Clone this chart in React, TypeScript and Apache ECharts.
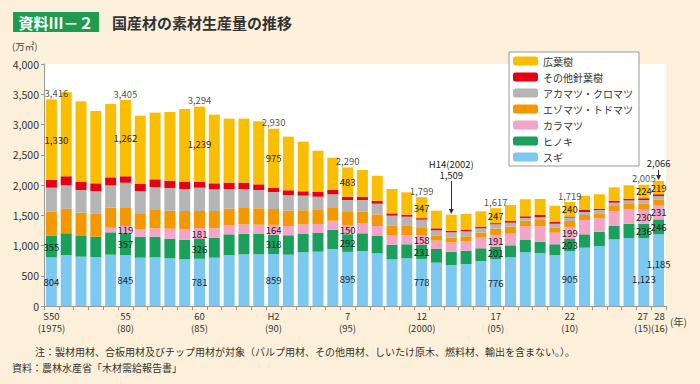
import React, { useEffect, useRef } from 'react';
import * as echarts from 'echarts';

// ---- data (万㎥) ----
const years = [
  '1975','1976','1977','1978','1979','1980','1981','1982','1983','1984',
  '1985','1986','1987','1988','1989','1990','1991','1992','1993','1994',
  '1995','1996','1997','1998','1999','2000','2001','2002','2003','2004',
  '2005','2006','2007','2008','2009','2010','2011','2012','2013','2014',
  '2015','2016',
];
const sugi = [804,843,815,810,848,845,799,805,788,772,781,799,838,855,855,859,848,888,898,942,895,909,871,772,788,778,716,678,694,744,776,805,888,876,843,905,964,992,1102,1124,1123,1185];
const hinoki = [355,358,342,336,370,357,347,341,325,324,326,330,347,340,335,318,321,302,309,319,292,293,286,241,232,231,226,220,220,210,201,198,203,187,177,203,221,236,226,236,236,246];
const karamatsu = [0,0,0,0,76,119,127,138,165,177,181,155,149,155,154,164,153,160,148,149,150,165,165,156,149,158,138,155,160,175,191,192,226,254,192,199,237,222,242,238,230,231];
const ezoTodo = [400,408,386,386,331,299,248,303,297,297,282,286,275,270,271,262,253,232,232,210,217,192,193,165,153,122,89,76,78,83,110,117,93,105,82,98,82,82,83,88,100,100];
const akaKuro = [397,386,374,369,370,418,380,380,376,364,386,359,325,314,302,281,260,242,220,226,198,193,176,159,154,138,82,89,83,72,72,65,45,49,66,56,50,55,55,60,62,55];
const sonota = [130,149,133,127,132,105,116,127,121,116,99,99,105,105,94,71,78,72,77,71,55,50,45,39,34,25,33,27,26,28,20,28,28,33,28,18,33,22,33,28,30,30];
const koyoju = [1330,1388,1333,1195,1212,1262,1129,1102,1135,1206,1239,1135,1058,1058,1042,975,887,820,683,535,483,446,418,402,369,347,291,264,260,253,247,265,281,265,270,240,236,237,221,221,224,219];

const tickYears = ['1975','1980','1985','1990','1995','2000','2005','2010','2015','2016'];
const tickTexts = ['S50\n(1975)','55\n(80)','60\n(85)','H2\n(90)','7\n(95)','12\n(2000)','17\n(05)','22\n(10)','27\n(15)','28\n(16)'];

// years whose values are printed
const labelYears = ['1975','1980','1985','1990','1995','2000','2005','2010','2015','2016'];
const totalLabelYears = ['1975','1980','1985','1990','1995','2000','2005','2010','2015'];
// arrow annotations: [year, arrow top value, arrow bottom value, text]
const arrowNotes: [string, number, number, string][] = [
  ['2002', 2066, 1560, 'H14(2002)\n1,509'],
  ['2016', 2250, 2125, '2,066'],
];

const BG = '#fdf0da';
const FONT = '"Noto Sans CJK JP", "Liberation Sans", sans-serif';
const TXT = '#333';
const LBL = 9.5;

const fmt = (v: number) => v.toLocaleString('en-US');

export default function App() {
  const ref = useRef<HTMLDivElement>(null);
  useEffect(() => {
    document.body.style.margin = '0';
    const chart = echarts.init(ref.current!, null, { renderer: 'svg' });

    const defs = [
      { name: 'スギ', data: sugi, color: '#7dc8f0', labels: labelYears },
      { name: 'ヒノキ', data: hinoki, color: '#19a05a', labels: labelYears },
      { name: 'カラマツ', data: karamatsu, color: '#f4a3c9', labels: labelYears.slice(1) },
      { name: 'エゾマツ・トドマツ', data: ezoTodo, color: '#f39800', labels: [] as string[] },
      { name: 'アカマツ・クロマツ', data: akaKuro, color: '#b5b5b5', labels: [] as string[] },
      { name: 'その他針葉樹', data: sonota, color: '#e60012', labels: [] as string[] },
      { name: '広葉樹', data: koyoju, color: '#fabe00', labels: labelYears },
    ];

    const barSeries = defs.map((d) => ({
      name: d.name,
      type: 'bar',
      stack: 'total',
      barWidth: 11,
      itemStyle: { color: d.color },
      label: {
        show: false,
        position: 'inside',
        color: '#222',
        fontSize: LBL,
        fontFamily: FONT,
        formatter: (p: any) => fmt(p.value),
      },
      data: d.data.map((v, i) => {
        const show = d.labels.includes(years[i]);
        const item: any = { value: v };
        if (show) {
          item.label = { show: true };
          if (i === 0 && d.name === '広葉樹') item.label.offset = [5, 0];
          if (d.name === 'スギ' && years[i] === '2015') item.label.offset = [0, 7];
          if (d.name === 'スギ' && years[i] === '2016') item.label.offset = [0, -6];
        }
        return item;
      }),
    }));

    const totals = years.map((_, i) =>
      defs.reduce((s, d) => s + d.data[i], 0)
    );

    const totalSeries = {
      name: '合計',
      type: 'scatter',
      symbolSize: 1,
      itemStyle: { color: 'rgba(0,0,0,0)' },
      silent: true,
      label: {
        show: false,
        position: 'top',
        distance: 1,
        color: '#222',
        fontSize: LBL,
        fontFamily: FONT,
        formatter: (p: any) => fmt(p.value),
      },
      data: totals.map((t, i) => {
        const item: any = { value: t };
        if (totalLabelYears.includes(years[i])) {
          item.label = { show: true };
          if (i === 0) item.label.offset = [5, 0];
        }
        return item;
      }),
      markLine: {
        silent: true,
        symbol: ['none', 'triangle'],
        symbolSize: 5,
        lineStyle: { color: '#333', width: 1, type: 'solid' },
        label: {
          show: true,
          position: 'start',
          distance: 1,
          color: '#222',
          fontSize: LBL,
          lineHeight: 11,
          fontFamily: FONT,
        },
        data: arrowNotes.map(([y, top, bottom, text]) => [
          { coord: [y, top], label: { formatter: text } },
          { coord: [y, bottom] },
        ]),
      },
    };

    const xData = years.map((y) => {
      if (y === '2015') return { value: y, textStyle: { padding: [0, 2, 0, 0] } };
      if (y === '2016') return { value: y, textStyle: { padding: [0, 0, 0, 2] } };
      return y;
    });

    const option: any = {
      animation: false,
      backgroundColor: BG,
      textStyle: { fontFamily: FONT },
      grid: {
        left: 44,
        right: 34,
        top: 64,
        bottom: 78,
        show: true,
        backgroundColor: '#ffffff',
        borderWidth: 0,
      },
      legend: {
        orient: 'vertical',
        left: 509,
        top: 52,
        width: 118,
        backgroundColor: '#ffffff',
        borderColor: '#999',
        borderWidth: 1,
        borderRadius: 0,
        padding: [3, 6, 3, 4],
        itemWidth: 25,
        itemHeight: 9,
        itemGap: 4,
        textStyle: { fontSize: 10, color: TXT, lineHeight: 12, fontFamily: FONT },
        data: ['広葉樹', 'その他針葉樹', 'アカマツ・クロマツ', 'エゾマツ・トドマツ', 'カラマツ', 'ヒノキ', 'スギ'],
      },
      xAxis: {
        type: 'category',
        data: xData,
        axisLine: { lineStyle: { color: '#999' } },
        axisTick: { show: true, interval: 0, length: 4, lineStyle: { color: '#999' } },
        axisLabel: {
          interval: 0,
          margin: 4,
          fontSize: 9.5,
          lineHeight: 12,
          color: TXT,
          formatter: (v: string) => {
            const k = tickYears.indexOf(v);
            return k >= 0 ? tickTexts[k] : '';
          },
        },
      },
      yAxis: {
        type: 'value',
        min: 0,
        max: 4000,
        interval: 500,
        axisLine: { show: true, lineStyle: { color: '#999' } },
        axisTick: { show: true, length: 3, lineStyle: { color: '#999' } },
        splitLine: { show: false },
        axisLabel: { fontSize: 10.5, color: TXT, margin: 5, formatter: (v: number) => fmt(v) },
      },
      series: [...barSeries, totalSeries],
      graphic: [
        { type: 'rect', shape: { x: 13, y: 12, width: 86, height: 20 }, style: { fill: '#1f9a4e' } },
        { type: 'text', x: 56, y: 22, style: { text: '資料Ⅲ－２', fill: '#fff', font: `bold 15px ${FONT}`, textAlign: 'center', textVerticalAlign: 'middle' } },
        { type: 'text', x: 112, y: 22, style: { text: '国産材の素材生産量の推移', fill: '#333', font: `bold 15px ${FONT}`, textAlign: 'left', textVerticalAlign: 'middle' } },
        { type: 'text', x: 12, y: 46, style: { text: '(万㎥)', fill: '#444', font: `9.5px ${FONT}`, textAlign: 'left', textVerticalAlign: 'middle' } },
        { type: 'text', x: 670, y: 321, style: { text: '(年)', fill: '#444', font: `10px ${FONT}`, textAlign: 'left', textVerticalAlign: 'middle' } },
        { type: 'text', x: 35, y: 351, style: { text: '注：製材用材、合板用材及びチップ用材が対象（パルプ用材、その他用材、しいたけ原木、燃料材、輸出を含まない。）。', fill: '#333', font: `10px ${FONT}`, textAlign: 'left', textVerticalAlign: 'middle' } },
        { type: 'text', x: 12, y: 367, style: { text: '資料：農林水産省「木材需給報告書」', fill: '#333', font: `10px ${FONT}`, textAlign: 'left', textVerticalAlign: 'middle' } },
      ],
    };

    chart.setOption(option);
    return () => chart.dispose();
  }, []);
  return <div ref={ref} style={{ width: 700, height: 384, background: BG }} />;
}
